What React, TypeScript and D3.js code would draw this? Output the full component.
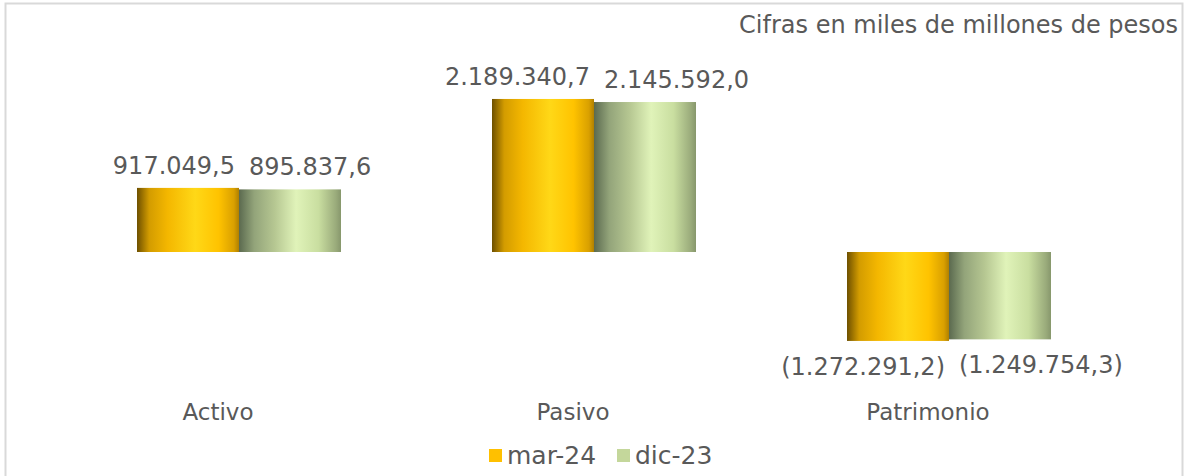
import React from 'react';
import * as d3 from 'd3';

const categories = ['Activo', 'Pasivo', 'Patrimonio'];
const seriesNames = ['mar-24', 'dic-23'];
const mar24 = [917049.5, 2189340.7, -1272291.2];
const dic23 = [895837.6, 2145592.0, -1249754.3];
const seriesColors = ['#FFC000', '#C4D79B'];
const subtitle = 'Cifras en miles de millones de pesos';

const W = 1184;
const H = 476;
const FONT = "'DejaVu Sans', Verdana, sans-serif";
const TXT = '#595959';

const locale = d3.formatLocale({ decimal: ',', thousands: '.', grouping: [3], currency: ['$', ''] });
const fmt = locale.format(',.1f');
const label = (v: number) => (v < 0 ? `(${fmt(-v)})` : fmt(v));

const App = () => {
  const series = [mar24, dic23];

  const x = d3.scaleBand().domain(categories).range([61.5, 1126.5]).padding(0);
  const inner = d3.scaleBand().domain(seriesNames).range([0, 204]);
  const y = d3.scaleLinear().domain([-1500000, 2500000]).range([356.85, 77.25]);

  const groupLeft = (c: string) => x(c)! + x.bandwidth() / 2 - 102;

  return (
    <svg width={W} height={H} style={{ position: 'fixed', left: 0, top: 0, background: '#fff' }}>
      <defs>
        <linearGradient id="g0" x1="0" x2="1" y1="0" y2="0">
          <stop offset="0" stopColor="#6e5000" />
          <stop offset="0.12" stopColor="#d39c00" />
          <stop offset="0.3" stopColor="#f4b700" />
          <stop offset="0.57" stopColor="#ffd817" />
          <stop offset="0.8" stopColor="#ffc300" />
          <stop offset="0.95" stopColor="#d9a000" />
          <stop offset="1" stopColor="#b08000" />
        </linearGradient>
        <linearGradient id="g1" x1="0" x2="1" y1="0" y2="0">
          <stop offset="0" stopColor="#5b6a4f" />
          <stop offset="0.15" stopColor="#93a47a" />
          <stop offset="0.35" stopColor="#b6c792" />
          <stop offset="0.56" stopColor="#e0f3b9" />
          <stop offset="0.78" stopColor="#c9dea0" />
          <stop offset="0.95" stopColor="#9aab7b" />
          <stop offset="1" stopColor="#87976c" />
        </linearGradient>
      </defs>

      <rect x={5.5} y={3.5} width={1177} height={H + 10} fill="none" stroke="#d9d9d9" strokeWidth={2} />

      <text x={1178} y={33} textAnchor="end" fontFamily={FONT} fontSize={24} fill={TXT}>
        {subtitle}
      </text>

      {categories.map((c, ci) => (
        <g key={c}>
          {series.map((s, si) => {
            const v = s[ci];
            const bx = groupLeft(c) + inner(seriesNames[si])!;
            const top = Math.min(y(v), y(0));
            const h = Math.abs(y(v) - y(0));
            return (
              <rect key={si} x={bx} y={top} width={inner.bandwidth()} height={h} fill={`url(#g${si})`} />
            );
          })}
          {series.map((s, si) => {
            const v = s[ci];
            const gc = x(c)! + x.bandwidth() / 2;
            const ty = v >= 0 ? y(v) - 14 : y(v) + 34;
            return (
              <text
                key={'l' + si}
                x={si === 0 ? gc - 4 : gc + 10}
                y={ty}
                textAnchor={si === 0 ? 'end' : 'start'}
                fontFamily={FONT}
                fontSize={24}
                fill={TXT}
              >
                {label(v)}
              </text>
            );
          })}
          <text x={x(c)! + x.bandwidth() / 2 - 21} y={420} textAnchor="middle" fontFamily={FONT} fontSize={23} fill={TXT}>
            {c}
          </text>
        </g>
      ))}

      {seriesNames.map((n, i) => {
        const lx = i === 0 ? 489 : 617;
        return (
          <g key={n}>
            <rect x={lx} y={449} width={13} height={13} fill={seriesColors[i]} />
            <text x={lx + 18} y={464} fontFamily={FONT} fontSize={25} fill={TXT}>
              {n}
            </text>
          </g>
        );
      })}
    </svg>
  );
};

export default App;
